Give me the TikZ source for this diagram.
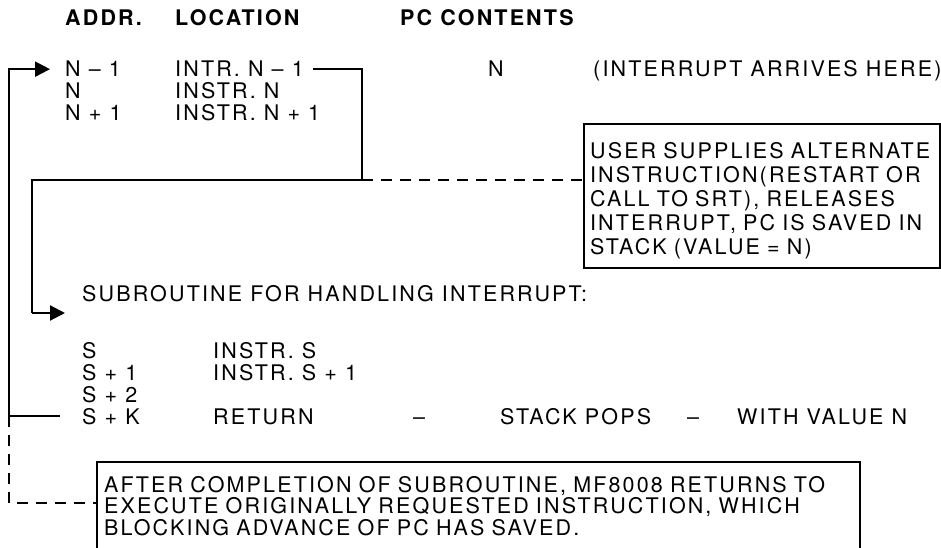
\documentclass[tikz,border=0pt]{standalone}
\usepackage{fontspec}
\setmainfont{TeX Gyre Heros}[LetterSpace=10]
\usetikzlibrary{arrows.meta,calc}

\tikzset{
  lbl/.style={anchor=base west, inner sep=0pt, font=\fontsize{21.5}{22}\selectfont},
  hdr/.style={lbl, font=\fontsize{21.5}{22}\selectfont\bfseries},
  flow/.style={line width=2.2pt},
  flowarr/.style={flow, -{Triangle[length=15pt,width=15pt]}},
  note/.style={draw, line width=2.2pt, align=left, inner xsep=6pt},
  link/.style={line width=1.8pt, dash pattern=on 11pt off 8pt}
}

\begin{document}
\begin{tikzpicture}[x=1pt,y=-1pt]
    \useasboundingbox (0,0) rectangle (941,548);
    \node[hdr] (haddr) at (65,26) {ADDR.};
    \node[hdr] (hloc) at (175,26) {LOCATION};
    \node[hdr] (hpc) at (400,26) {PC CONTENTS};
    \node[lbl] (a1) at (65,77) {N – 1};
    \node[lbl] (a2) at (65,99) {N};
    \node[lbl] (a3) at (65,121) {N + 1};
    \node[lbl] (l1) at (175,77) {INTR. N – 1};
    \node[lbl] (l2) at (175,99) {INSTR. N};
    \node[lbl] (l3) at (175,121) {INSTR. N + 1};
    \node[lbl] (pc1) at (488,77) {N};
    \node[lbl] (here) at (593,77) {(INTERRUPT ARRIVES HERE)};
    \node[note, anchor=north west, minimum width=356pt, minimum height=144pt, text width=344pt,
          font=\fontsize{21.5}{24}\selectfont] (ubox) at (583,123)
      {\rule{0pt}{26pt}USER SUPPLIES ALTERNATE\\INSTRUCTION(RESTART OR\\CALL TO SRT), RELEASES\\INTERRUPT, PC IS SAVED IN\\STACK (VALUE = N)};
    \node[lbl] (sub) at (82,301) {SUBROUTINE FOR HANDLING INTERRUPT:};
    \node[lbl] (s0) at (82,358) {S};
    \node[lbl] (s1) at (82,380) {S + 1};
    \node[lbl] (s2) at (82,402) {S + 2};
    \node[lbl] (sk) at (82,424) {S + K};
    \node[lbl] (i0) at (213,358) {INSTR. S};
    \node[lbl] (i1) at (213,380) {INSTR. S + 1};
    \node[lbl] (ret) at (213,424) {RETURN};
    \node[lbl] (d1) at (413,424) {–};
    \node[lbl] (pop) at (500,424) {STACK POPS};
    \node[lbl] (d2) at (687,424) {–};
    \node[lbl] (val) at (737,424) {WITH VALUE N};
    \node[note, draw=none, anchor=north west, inner ysep=13pt, text width=749pt,
          font=\fontsize{21.5}{21.5}\selectfont] (abox) at (97,462)
      {AFTER COMPLETION OF SUBROUTINE, MF8008 RETURNS TO\\EXECUTE ORIGINALLY REQUESTED INSTRUCTION, WHICH\\BLOCKING ADVANCE OF PC HAS SAVED.};
    \draw[line width=2.2pt] (abox.north west |- 0,560) -- (abox.north west) -- (abox.north east) -- (abox.north east |- 0,560);
    \coordinate (lcorner) at (9,416);
    \coordinate (brk) at (362,180);
    \coordinate (subin) at (32,313);
    \coordinate (dashend) at (9,503);
    \draw[flowarr] ([xshift=-22pt]sk.west |- lcorner) -- (lcorner) |- ([xshift=-15pt]a1.west);
    \draw[flow] ([xshift=9pt]l1.east) -| (brk) -- (brk -| subin) -- (subin);
    \draw[flowarr] (subin) -- ([xshift=-17pt]subin -| sub.west);
    \draw[link] (brk) -- (brk -| ubox.west);
    \draw[link] (lcorner) -- (dashend) -- (dashend -| abox.west);
  \end{tikzpicture}
\end{document}
